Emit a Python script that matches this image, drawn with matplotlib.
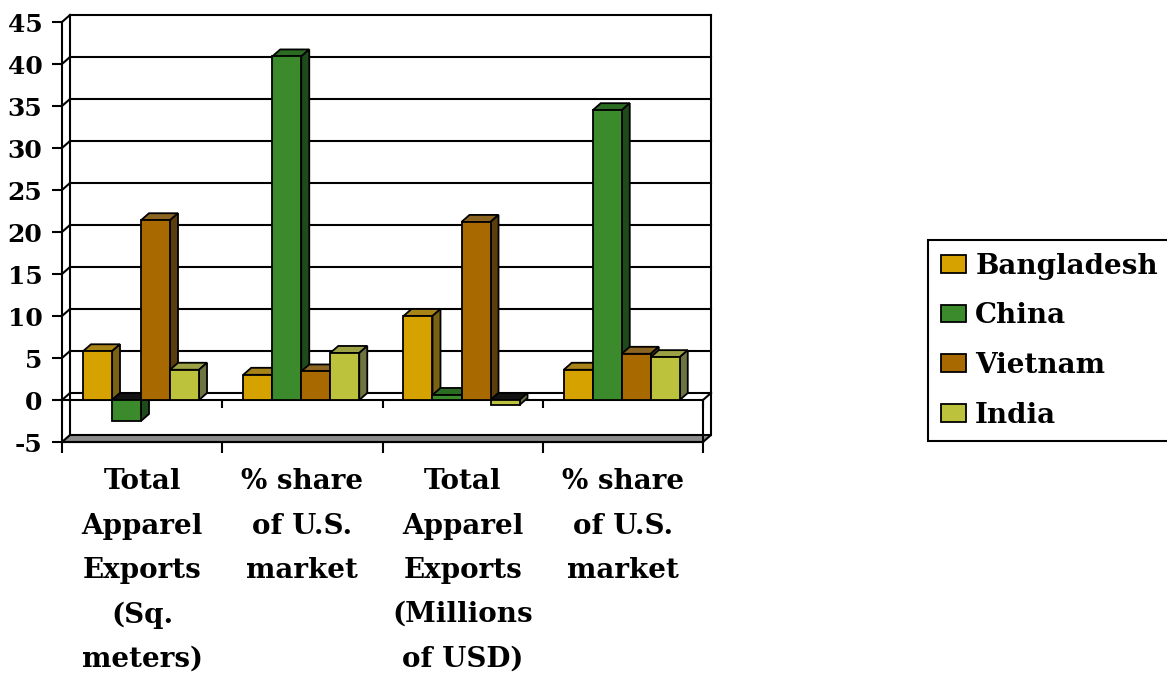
import matplotlib
matplotlib.use("Agg")
import matplotlib.pyplot as plt
from matplotlib.patches import Polygon
import numpy as np

categories = ["Total\nApparel\nExports\n(Sq.\nmeters)",
              "% share\nof U.S.\nmarket",
              "Total\nApparel\nExports\n(Millions\nof USD)",
              "% share\nof U.S.\nmarket"]
countries = ["Bangladesh", "China", "Vietnam", "India"]
bangladesh = [5.8, 3.0, 10.0, 3.6]
china = [-2.5, 40.9, 0.6, 34.5]
vietnam = [21.4, 3.4, 21.2, 5.5]
india = [3.6, 5.6, -0.6, 5.1]
yticks = list(range(-5, 50, 5))

front_colors = ["#d6a200", "#3b8b2c", "#a86a00", "#bcc23c"]
top_colors = ["#a88418", "#2c6c22", "#8a6420", "#9ca244"]
side_colors = ["#7a6214", "#1f4a1c", "#5c3e0c", "#6e7440"]

plt.rcParams["font.family"] = ["DejaVu Serif"]
plt.rcParams["font.weight"] = "bold"
plt.rcParams["axes.unicode_minus"] = False

fig = plt.figure(figsize=(11.67, 6.76), dpi=100)
ax = fig.add_axes([62 / 1167, 1 - 442 / 676, 641 / 1167, 420 / 676])
ax.set_xlim(0, 4)
ax.set_ylim(-5, 45)

# depth of the fake 3d (pixels -> data units)
dx = 8 * 4 / 641
dy = 7 * 50 / 420
lw = 1.5

# back wall, side wall and gridlines
for y in yticks[1:]:
    ax.plot([dx, 4 + dx], [y + dy, y + dy], color="black", lw=lw, zorder=1, clip_on=False)
    ax.plot([0, dx], [y, y + dy], color="black", lw=lw, zorder=1, clip_on=False)
ax.plot([dx, dx], [-5 + dy, 45 + dy], color="black", lw=lw, zorder=1, clip_on=False)
ax.plot([4 + dx, 4 + dx], [-5 + dy, 45 + dy], color="black", lw=lw, zorder=1, clip_on=False)

# floor slab
ax.add_patch(Polygon([(0, -5), (4, -5), (4 + dx, -5 + dy), (dx, -5 + dy)],
                     closed=True, fc="#8c8c8c", ec="black", lw=lw, zorder=2, clip_on=False))

# zero plane front edge
ax.plot([0, 4], [0, 0], color="black", lw=lw, zorder=2)
ax.plot([4, 4], [0, -5], color="black", lw=lw, zorder=2, clip_on=False)
ax.plot([4, 4 + dx], [0, dy], color="black", lw=lw, zorder=2, clip_on=False)
ax.vlines(range(5), -1.0, 0, color="black", lw=lw, zorder=2, clip_on=False)

series = [bangladesh, china, vietnam, india]
x = np.arange(len(categories))
width = 0.181
start = 0.131

containers = []
for i, (name, vals) in enumerate(zip(countries, series)):
    bars = ax.bar(x + start + i * width, vals, width=width, align="edge",
                  color=front_colors[i], edgecolor="black", linewidth=1.3, label=name)
    containers.append(bars)

for i, bars in enumerate(containers):
    for c, rect in enumerate(bars):
        z = 3 + c * 4 + i
        rect.set_zorder(z + 0.5)
        x0 = rect.get_x()
        x1 = x0 + rect.get_width()
        y0 = rect.get_y()
        y1 = y0 + rect.get_height()
        lo, hi = min(y0, y1), max(y0, y1)
        top_col = top_colors[i] if y1 >= y0 else "#121212"
        ax.add_patch(Polygon([(x0, hi), (x1, hi), (x1 + dx, hi + dy), (x0 + dx, hi + dy)],
                             closed=True, fc=top_col, ec="black", lw=1.3, zorder=z))
        ax.add_patch(Polygon([(x1, lo), (x1, hi), (x1 + dx, hi + dy), (x1 + dx, lo + dy)],
                             closed=True, fc=side_colors[i], ec="black", lw=1.3, zorder=z))

for s in ["top", "right"]:
    ax.spines[s].set_visible(False)
for s in ["left", "bottom"]:
    ax.spines[s].set_linewidth(lw)
    ax.spines[s].set_zorder(2)

ax.set_yticks(yticks)
ax.tick_params(axis="y", length=7, width=lw, pad=7, labelsize=18)
ax.set_xticks(x + 0.5)
ax.set_xticklabels(categories)
ax.set_xticks(np.arange(5), minor=True)
ax.tick_params(axis="x", which="major", length=0, pad=19, labelsize=20)
ax.tick_params(axis="x", which="minor", length=8, width=lw)
for lbl in ax.get_xticklabels():
    lbl.set_linespacing(1.82)

leg = fig.legend(handles=containers, labels=countries, loc="upper left",
                 bbox_to_anchor=(928 / 1167, 1 - 240 / 676), frameon=True, fancybox=False,
                 edgecolor="black", framealpha=1, fontsize=20, handlelength=0.9,
                 handleheight=0.6, handletextpad=0.35, labelspacing=0.82, borderpad=0.45,
                 borderaxespad=0)
leg.get_frame().set_linewidth(lw)

fig.savefig("out.png", dpi=100, facecolor="white")
